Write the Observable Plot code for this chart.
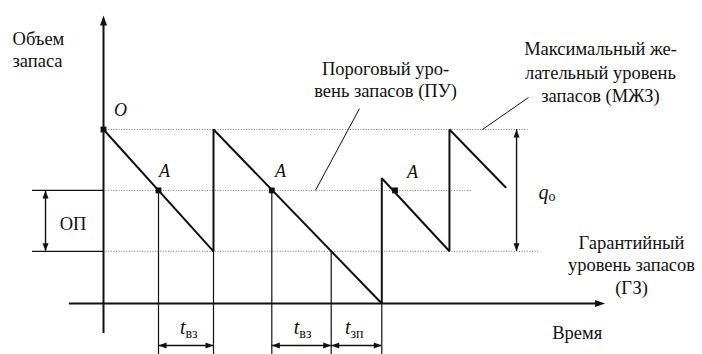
<!DOCTYPE html>
<html><head><meta charset="utf-8">
<script src="https://cdn.jsdelivr.net/npm/d3@7"></script>
<script src="https://cdn.jsdelivr.net/npm/@observablehq/plot@0.6"></script>
<style>
html,body{margin:0;padding:0;background:#fff;font-family:"Liberation Serif",serif}
#fontwarm{position:absolute;left:0;top:0;font:18px "Liberation Serif";white-space:pre}
#fontwarm i{font-style:italic}
</style>
</head><body><div id="chart"></div><span id="fontwarm" aria-hidden="true">&nbsp;<i>&nbsp;</i></span>
<script>
// ---- data (time units along x, stock level units along y) ----
const levelNames  = ["МЖЗ", "ПУ", "ГЗ"];
const levelValues = [10, 6.5, 3];
const levelEnds   = [38.6, 33.5, 39.7];

const stockTime  = [0, 10, 10, 25.3, 25.3, 31.45, 31.45, 36.55];
const stockLevel = [10, 3, 10, 0, 7.2, 3, 10, 6.68];

const orderTime      = [5, 15.3, 26.5];
const orderLevel     = [6.5, 6.5, 6.5];
const orderLabelTime = [5.55, 16.1, 28.1];
const orderLabelLvl  = [7.61, 7.61, 7.55];

const dropTime = [5, 10, 15.3, 20.7, 25.3];
const dropFrom = [6.5, 3, 6.5, 3, 0];

const spanStart     = [5, 15.3, 20.7];
const spanEnd       = [10, 20.7, 25.3];
const spanSub       = ["вз", "вз", "зп"];
const spanLabelTime = [7.45, 17.8, 22.45];
const spanLevel     = -2.41;

const dimTime = [-5.27, 37.55];
const dimLow  = [3, 3];
const dimHigh = [6.5, 10];

const yAxisRange = [-1.72, 16.55];
const xAxisRange = [-3.1, 45.6];
const extFrom = -6.45;

const leaderFrom = [[19.27, 6.5], [34.45, 10]];
const leaderTo   = [[23.27, 11.2], [38.64, 11.84]];

const labelText  = ["Пороговый уро-\nвень запасов (ПУ)", "Гарантийный\nуровень запасов\n(ГЗ)", "ОП"];
const labelTime  = [25.64, 48, -2.77];
const labelLevel = [12.92, 2.25, 4.64];
const mzText = "Максимальный же-\nлательный уровень\nзапасов (МЖЗ)";
const mzPos = [45.18, 13.34];
const startText  = ["Объем\nзапаса", "Время"];
const startTime  = [-8.27, 40.79];
const startLevel = [14.64, -1.62];

// ---- scales ----
const W = 702, H = 354;
const xDomain = [-103 / 11, (W - 103) / 11];
const yDomain = [(303 - H) / 17.4, 303 / 17.4];

const ink = "#111";
const serif = "Liberation Serif";
const fs = 18.5;

function headSymbol(len, half) {
  return { draw(ctx) { ctx.moveTo(0, 0); ctx.lineTo(-half, len); ctx.lineTo(half, len); ctx.closePath(); } };
}
const smallHead = headSymbol(8, 3);
const bigHead = headSymbol(10, 3.5);

const smallHeads = [];
spanStart.forEach((s, i) => {
  smallHeads.push({ x: s, y: spanLevel, r: 270 });
  smallHeads.push({ x: spanEnd[i], y: spanLevel, r: 90 });
});
dimTime.forEach((t, i) => {
  smallHeads.push({ x: t, y: dimHigh[i], r: 0 });
  smallHeads.push({ x: t, y: dimLow[i], r: 180 });
});
const bigHeads = [
  { x: 0, y: yAxisRange[1], r: 0 },
  { x: xAxisRange[1], y: 0, r: 90 }
];

const stock = stockTime.map((t, i) => ({ t, q: stockLevel[i] }));
const levels = levelValues.map((v, i) => ({ name: levelNames[i], v, end: levelEnds[i] }));
const drops = dropTime.map((t, i) => ({ t, from: dropFrom[i] }));
const spans = spanStart.map((s, i) => ({ s, e: spanEnd[i], sub: spanSub[i], lx: spanLabelTime[i] }));
const dims = dimTime.map((t, i) => ({ t, lo: dimLow[i], hi: dimHigh[i] }));
const markers = [{ t: 0, q: 10 }, ...orderTime.map((t, i) => ({ t, q: orderLevel[i] }))];
const leaders = leaderFrom.map((f, i) => ({ x1: f[0], y1: f[1], x2: leaderTo[i][0], y2: leaderTo[i][1] }));

const chart = Plot.plot({
  width: W, height: H, margin: 0,
  x: { domain: xDomain, axis: null },
  y: { domain: yDomain, axis: null },
  style: { background: "#fff", overflow: "visible" },
  marks: [
    Plot.ruleY(levels, { y: "v", x1: 0, x2: "end", stroke: "#777", strokeWidth: 1, strokeDasharray: "1,1.6" }),
    Plot.ruleY([levelValues[1], levelValues[2]], { x1: extFrom, x2: 0, stroke: ink, strokeWidth: 1.3 }),
    Plot.ruleX(drops, { x: "t", y1: "from", y2: yDomain[0], stroke: ink, strokeWidth: 1.2 }),
    Plot.link(leaders, { x1: "x1", y1: "y1", x2: "x2", y2: "y2", stroke: ink, strokeWidth: 1 }),
    Plot.ruleX([0], { y1: yAxisRange[0], y2: yAxisRange[1] - 0.3, stroke: ink, strokeWidth: 2 }),
    Plot.ruleY([0], { x1: xAxisRange[0], x2: xAxisRange[1] - 0.4, stroke: ink, strokeWidth: 2 }),
    Plot.line(stock, { x: "t", y: "q", stroke: ink, strokeWidth: 2, strokeLinejoin: "miter" }),
    Plot.ruleY(spans, { y: spanLevel, x1: "s", x2: "e", stroke: ink, strokeWidth: 1.4 }),
    Plot.ruleX(dims, { x: "t", y1: "lo", y2: "hi", stroke: ink, strokeWidth: 1.4 }),
    Plot.dot(smallHeads, { x: "x", y: "y", rotate: "r", symbol: smallHead, fill: ink, stroke: null }),
    Plot.dot(bigHeads, { x: "x", y: "y", rotate: "r", symbol: bigHead, fill: ink, stroke: null }),
    Plot.dot(markers, { x: "t", y: "q", symbol: "square", r: 3.3, fill: ink, stroke: null }),
    // labels
    Plot.text(labelText.map((s, i) => ({ s, x: labelTime[i], y: labelLevel[i] })),
      { x: "x", y: "y", text: "s", fontFamily: serif, fontSize: fs, lineHeight: 1.2, fill: ink }),
    Plot.text([{ s: mzText, x: mzPos[0], y: mzPos[1] }],
      { x: "x", y: "y", text: "s", fontFamily: serif, fontSize: fs, lineHeight: 1.27, fill: ink }),
    Plot.text(startText.map((s, i) => ({ s, x: startTime[i], y: startLevel[i] })),
      { x: "x", y: "y", text: "s", textAnchor: "start", fontFamily: serif, fontSize: fs, lineHeight: 1.2, fill: ink }),
    Plot.text([{ s: "O", x: 1.55, y: 11.11 }, ...orderLabelTime.map((t, i) => ({ s: "A", x: t, y: orderLabelLvl[i] }))],
      { x: "x", y: "y", text: "s", fontFamily: serif, fontSize: 18, fontStyle: "italic", fill: ink }),
    Plot.text(spans, { x: "lx", y: -1.39, text: () => "t", textAnchor: "end", fontFamily: serif, fontSize: 20, fontStyle: "italic", fill: ink }),
    Plot.text(spans, { x: "lx", y: -1.74, text: "sub", textAnchor: "start", fontFamily: serif, fontSize: 14, fill: ink }),
    Plot.text([{ s: "q", x: 40.45, y: 6.38 }], { x: "x", y: "y", text: "s", textAnchor: "end", fontFamily: serif, fontSize: 20, fontStyle: "italic", fill: ink }),
    Plot.text([{ s: "o", x: 40.45, y: 6.15 }], { x: "x", y: "y", text: "s", textAnchor: "start", fontFamily: serif, fontSize: 14, fill: ink })
  ]
});
document.getElementById("chart").appendChild(chart);
</script>
</body></html>
